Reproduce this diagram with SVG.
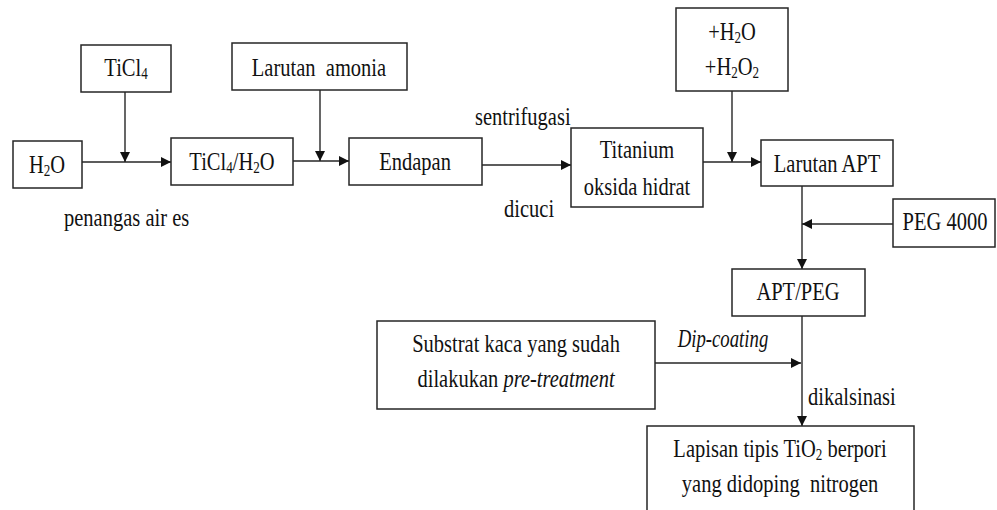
<svg xmlns="http://www.w3.org/2000/svg" width="997" height="510" viewBox="0 0 997 510">
<defs>
<style>
.box{fill:#fff;stroke:#262626;stroke-width:1.5}
.t,.l{font-family:"Liberation Serif","Times New Roman",serif;font-size:25px;fill:#111;transform-box:fill-box;transform:scaleX(0.82)}
.t{text-anchor:middle;transform-origin:center}
.l{transform-origin:left}
.i{font-style:italic;transform:scaleX(0.75)}
.c{stroke:#262626;stroke-width:1.4;fill:none;marker-end:url(#ah)}
.s{font-size:16px}
</style>
<marker id="ah" viewBox="0 0 10 10" refX="10" refY="5" markerWidth="10" markerHeight="10" markerUnits="userSpaceOnUse" orient="auto">
<path d="M0,0 L10,5 L0,10 Z" fill="#111"/>
</marker>
</defs>
<rect width="997" height="510" fill="#fff"/>

<g id="connectors">
<line class="c" x1="82" y1="162" x2="171" y2="162"/>
<line class="c" x1="125" y1="92" x2="125" y2="162"/>
<line class="c" x1="293" y1="161" x2="349" y2="161"/>
<line class="c" x1="320" y1="90" x2="320" y2="161"/>
<line class="c" x1="482" y1="165" x2="571" y2="165"/>
<line class="c" x1="703" y1="162" x2="761" y2="162"/>
<line class="c" x1="732" y1="91" x2="732" y2="162"/>
<line class="c" x1="802" y1="186" x2="802" y2="269"/>
<line class="c" x1="893" y1="224" x2="802" y2="224"/>
<line class="c" x1="802" y1="316" x2="802" y2="426"/>
<line class="c" x1="655" y1="363" x2="801" y2="363"/>
<text class="l" x="475" y="125">sentrifugasi</text>
<text class="l" x="504" y="217">dicuci</text>
<text class="l" x="64" y="226">penangas air es</text>
<text class="l i" x="678" y="347">Dip-coating</text>
<text class="l" x="808" y="405">dikalsinasi</text>
</g>

<g id="n-ticl4">
<rect class="box" x="81" y="45" width="90" height="47"/>
<text class="t" x="126" y="76">TiCl<tspan class="s" dy="3">4</tspan></text>
</g>
<g id="n-h2o">
<rect class="box" x="13" y="141" width="69" height="47"/>
<text class="t" x="47" y="173">H<tspan class="s" dy="3">2</tspan><tspan dy="-3">O</tspan></text>
</g>
<g id="n-ticl4h2o">
<rect class="box" x="171" y="138" width="122" height="47"/>
<text class="t" x="232" y="170">TiCl<tspan class="s" dy="3">4</tspan><tspan dy="-3">/H</tspan><tspan class="s" dy="3">2</tspan><tspan dy="-3">O</tspan></text>
</g>
<g id="n-amonia">
<rect class="box" x="232" y="43" width="175" height="47"/>
<text class="t" x="319" y="76" xml:space="preserve">Larutan  amonia</text>
</g>
<g id="n-endapan">
<rect class="box" x="349" y="138" width="133" height="47"/>
<text class="t" x="415" y="170">Endapan</text>
</g>
<g id="n-titanium">
<rect class="box" x="571" y="128" width="132" height="79"/>
<text class="t" x="637" y="158">Titanium</text>
<text class="t" x="637" y="195">oksida hidrat</text>
</g>
<g id="n-h2o2">
<rect class="box" x="676" y="8" width="112" height="83"/>
<text class="t" x="732" y="40">+H<tspan class="s" dy="3">2</tspan><tspan dy="-3">O</tspan></text>
<text class="t" x="732" y="75">+H<tspan class="s" dy="3">2</tspan><tspan dy="-3">O</tspan><tspan class="s" dy="3">2</tspan></text>
</g>
<g id="n-larutanapt">
<rect class="box" x="761" y="140" width="132" height="46"/>
<text class="t" x="827" y="172">Larutan APT</text>
</g>
<g id="n-peg">
<rect class="box" x="893" y="199" width="102" height="48"/>
<text class="t" x="945" y="230">PEG 4000</text>
</g>
<g id="n-aptpeg">
<rect class="box" x="732" y="269" width="133" height="47"/>
<text class="t" x="798" y="300">APT/PEG</text>
</g>
<g id="n-substrat">
<rect class="box" x="377" y="321" width="278" height="88"/>
<text class="t" x="516" y="352">Substrat kaca yang sudah</text>
<text class="t" x="516" y="387">dilakukan <tspan font-style="italic">pre-treatment</tspan></text>
</g>
<g id="n-lapisan">
<rect class="box" x="647" y="426" width="267" height="100"/>
<text class="t" x="780" y="457">Lapisan tipis TiO<tspan class="s" dy="3">2</tspan><tspan dy="-3"> berpori</tspan></text>
<text class="t" x="780" y="492" xml:space="preserve">yang didoping  nitrogen</text>
</g>
</svg>
